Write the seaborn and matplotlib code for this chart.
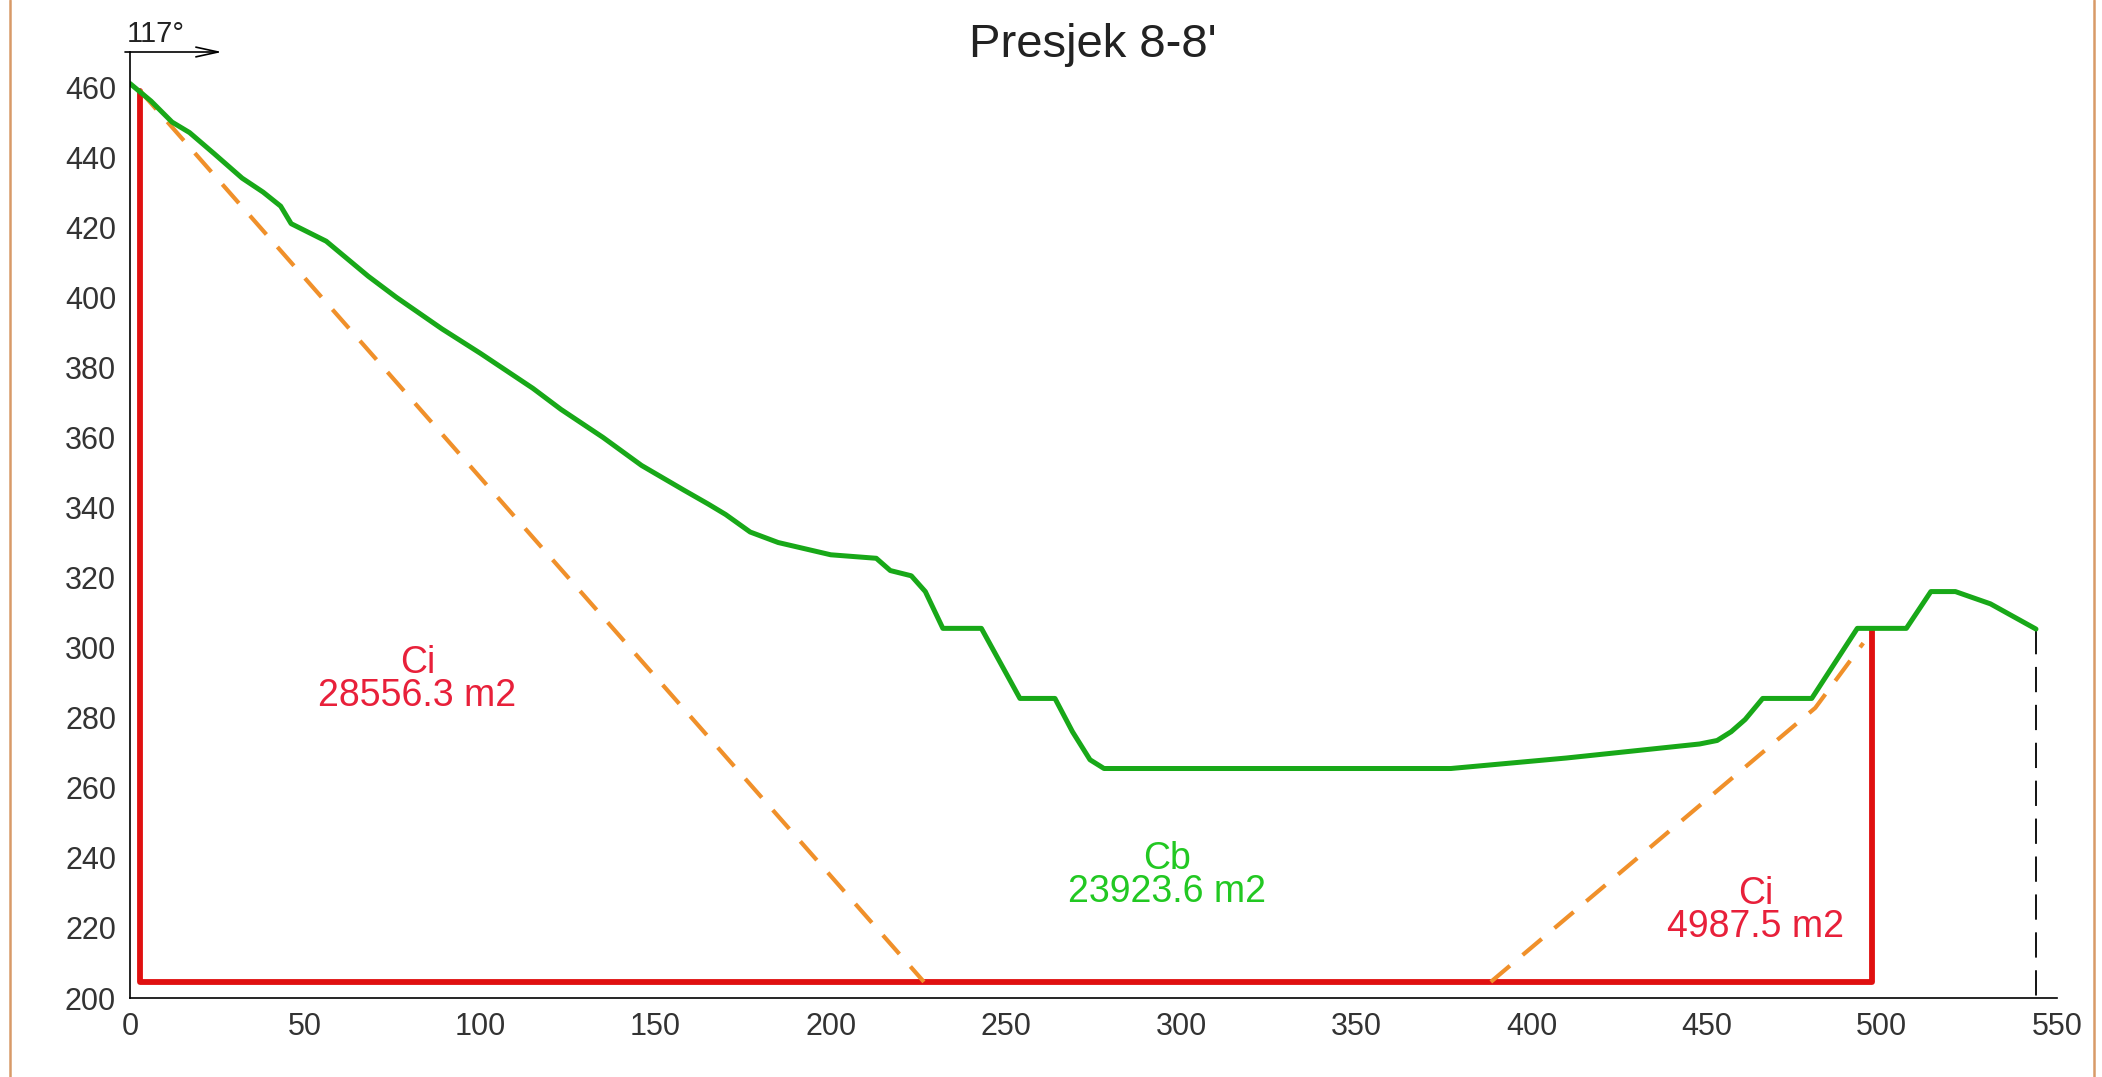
import matplotlib
matplotlib.use("Agg")
import matplotlib.pyplot as plt
import seaborn as sns
from matplotlib.lines import Line2D
from matplotlib.ticker import MultipleLocator

# terrain profile (green)
ground_x = [0, 6, 12, 17, 24, 32, 38, 43, 46, 56, 68, 76, 89, 100, 106, 115, 123, 135,
            146, 158, 165, 170, 177, 185, 200, 213, 217, 223, 227, 232, 243, 254, 264,
            269, 274, 278, 377, 410, 448, 453, 457, 461, 466, 480, 493, 507, 514, 521,
            531, 544]
ground_y = [461, 456, 450, 447, 441, 434, 430, 426, 421, 416, 406, 400, 391, 384, 380,
            374, 368, 360, 352, 345, 341, 338, 333, 330, 326.5, 325.5, 322, 320.5, 316,
            305.5, 305.5, 285.5, 285.5, 276, 268, 265.5, 265.5, 268.5, 272.5, 273.5, 276,
            279.5, 285.5, 285.5, 305.5, 305.5, 316, 316, 312.5, 305.3]

# section boundary (red)
bound_x = [2.8, 2.8, 497.3, 497.3]
bound_y = [459, 204.6, 204.6, 305.3]

# slopes (orange dashed)
slope_left_x = [2.8, 226.6]
slope_left_y = [459, 204.6]
slope_right_x = [388.4, 481, 494.7]
slope_right_y = [204.6, 282.8, 301.3]

# end of profile (black dashed)
end_x = [544, 544]
end_y = [305.3, 200]

labels = ["Ci\n28556.3 m2", "Cb\n23923.6 m2", "Ci\n4987.5 m2"]
label_x = [82, 296, 464]
label_y = [291, 235, 225]
label_colors = ["#e8203a", "#22c822", "#e8203a"]

sns.set_style("white")
plt.rcParams["font.family"] = ["Liberation Sans", "DejaVu Sans"]

fig = plt.figure(figsize=(21.02, 10.77), dpi=100)
ax = fig.add_axes([130 / 2102, 1 - 998 / 1077, (2057 - 130) / 2102, (998 - 52) / 1077])

kw = dict(sort=False, estimator=None, errorbar=None, ax=ax)
sns.lineplot(x=bound_x, y=bound_y, color="#e01010", linewidth=4.2, **kw)
sns.lineplot(x=slope_left_x, y=slope_left_y, color="#f0902a", linewidth=3,
             linestyle=(0, (6, 4)), **kw)
sns.lineplot(x=slope_right_x, y=slope_right_y, color="#f0902a", linewidth=3,
             linestyle=(0, (6, 4)), **kw)
sns.lineplot(x=end_x, y=end_y, color="black", linewidth=1.3,
             linestyle=(0, (14, 7)), **kw)
sns.lineplot(x=ground_x, y=ground_y, color="#18a818", linewidth=3.6, **kw)

for t, x, y, c in zip(labels, label_x, label_y, label_colors):
    ax.text(x, y, t, color=c, fontsize=27, ha="center", va="center", linespacing=0.9)

ax.set_xlim(0, 550)
ax.set_ylim(200, 470)
ax.set_xticks(range(0, 551, 50))
ax.set_yticks(range(200, 461, 20))
ax.xaxis.set_minor_locator(MultipleLocator(10))
ax.yaxis.set_minor_locator(MultipleLocator(10))
ax.tick_params(axis="both", which="major", direction="out", length=7, width=1.2,
               labelsize=22, labelcolor="#333333", color="black", pad=3)
ax.tick_params(axis="both", which="minor", direction="out", length=4, width=1, color="black")
for side in ["top", "right"]:
    ax.spines[side].set_visible(False)
for side in ["left", "bottom"]:
    ax.spines[side].set_color("black")
    ax.spines[side].set_linewidth(1.2)
ax.set_xlabel("")
ax.set_ylabel("")

fig.text(1093 / 2102, 1 - 45 / 1077, "Presjek 8-8'", fontsize=34, ha="center", va="center",
         color="#222222")

# direction arrow
ax.annotate("", xy=(222 / 2102, 1 - 52 / 1077), xytext=(125 / 2102, 1 - 52 / 1077),
            xycoords="figure fraction", textcoords="figure fraction",
            arrowprops=dict(arrowstyle="->,head_length=1.6,head_width=0.35", color="black",
                            lw=1.2, shrinkA=0, shrinkB=0))
fig.text(127 / 2102, 1 - 34 / 1077, "117°", fontsize=21, ha="left", va="center",
         color="#222222")

# page frame
fig.add_artist(Line2D([10 / 2102, 10 / 2102], [0, 1], transform=fig.transFigure,
                      color="#d89a68", linewidth=1.8))
fig.add_artist(Line2D([2094 / 2102, 2094 / 2102], [0, 1], transform=fig.transFigure,
                      color="#d89a68", linewidth=1.8))

fig.savefig("out.png", dpi=100)
